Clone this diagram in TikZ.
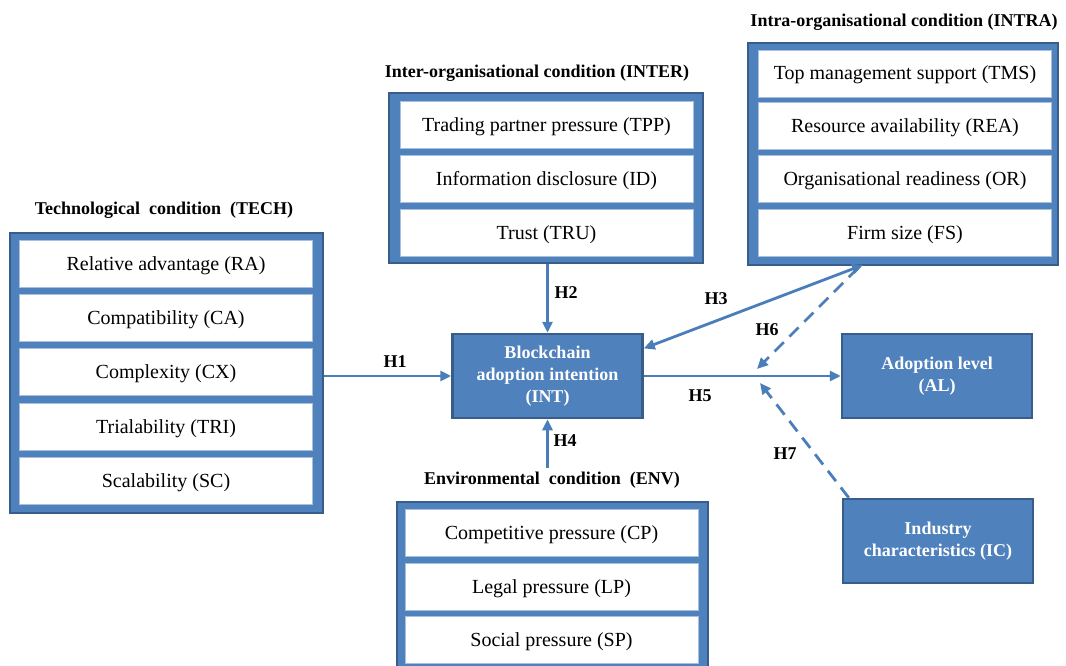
\documentclass[tikz,border=0pt]{standalone}
\usepackage{fontspec}
\setmainfont{Liberation Serif}
\usetikzlibrary{arrows.meta}
\definecolor{boxblue}{HTML}{4F81BD}
\definecolor{boxedge}{HTML}{385D8A}
\definecolor{arrowblue}{HTML}{4A7EBB}
\tikzset{
  group/.style={draw=boxedge, fill=boxblue, line width=2.5pt, inner sep=0pt},
  item/.style={draw=boxblue!50!white, fill=white, line width=0.6pt, minimum width=293pt, minimum height=47pt, inner sep=0pt, text height=14pt, text depth=1pt, font=\fontsize{20}{24}\selectfont},
  head/.style={font=\bfseries\fontsize{18}{22}\selectfont},
  core/.style={draw=boxedge, fill=boxblue, line width=2.5pt, text=white, align=center, minimum width=190pt, minimum height=84pt, inner sep=0pt, font=\bfseries\fontsize{18}{22}\selectfont},
  hyp/.style={font=\bfseries\fontsize{18}{22}\selectfont},
  link/.style={draw=arrowblue, line width=2.8pt, -{Triangle[length=11pt,width=10pt]}},
  moderate/.style={link, dash pattern=on 13pt off 8pt}
}
\begin{document}
\begin{tikzpicture}[x=1pt, y=-1pt]
\useasboundingbox (0,0) rectangle (1066,666);

% technological condition
\node[head] (techhead) at (164,210) {Technological\ \ condition\ \ (TECH)};
\node[group, minimum width=313pt, minimum height=280pt] (tech) at (166.5,373) {};
\node[item] (ra) at (166,264) {Relative advantage (RA)};
\node[item] (ca) at (166,318) {Compatibility (CA)};
\node[item] (cx) at (166,372) {Complexity (CX)};
\node[item] (tri) at (166,427) {Trialability (TRI)};
\node[item] (sc) at (166,481) {Scalability (SC)};

% inter-organisational condition
\node[head] (interhead) at (537,73) {Inter-organisational condition (INTER)};
\node[group, minimum width=314pt, minimum height=170pt] (inter) at (546,178) {};
\node[item] (tpp) at (546.5,125) {Trading partner pressure (TPP)};
\node[item] (id) at (546.5,179) {Information disclosure (ID)};
\node[item] (tru) at (546.5,233) {Trust (TRU)};

% intra-organisational condition
\node[head] (intrahead) at (904,22) {Intra-organisational condition (INTRA)};
\node[group, minimum width=310pt, minimum height=222pt] (intra) at (903,154) {};
\node[item] (tms) at (905,73.5) {Top management support (TMS)};
\node[item] (rea) at (905,126) {Resource availability (REA)};
\node[item] (or) at (905,179) {Organisational readiness (OR)};
\node[item] (fs) at (905,233) {Firm size (FS)};

% environmental condition
\node[head] (envhead) at (552,480) {Environmental\ \ condition\ \ (ENV)};
\node[group, minimum width=311pt, minimum height=172pt] (env) at (552.5,588) {};
\node[item] (cp) at (551.5,533) {Competitive pressure (CP)};
\node[item] (lp) at (551.5,586.5) {Legal pressure (LP)};
\node[item] (sp) at (551.5,640) {Social pressure (SP)};

% constructs
\node[core] (int) at (547.5,376) {Blockchain\\adoption intention\\(INT)};
\node[core] (al) at (937,376) {Adoption level\\(AL)};
\node[core] (ic) at (938,541) {Industry\\characteristics (IC)};

% free ends
\coordinate (intrah3) at (863,265);
\coordinate (intrah6) at (858,268);
\coordinate (envh4) at (547.5,468);
\coordinate (h6end) at (757,369);
\coordinate (h7end) at (760,383);

\draw[link] (tech.east |- int.west) -- (int.west);
\draw[link] (inter.south -| int.north) -- (int.north);
\draw[link, {Triangle[length=11pt,width=10pt]}-{Triangle[length=11pt,width=10pt]}] (intrah3) -- (int.16);
\draw[link] (envh4) -- (int.south);
\draw[link] (int.east) -- (al.west);
\draw[moderate] (intrah6) -- (h6end);
\draw[moderate] ([xshift=7pt]ic.north west) -- (h7end);

\node[hyp] (h1) at (395,362) {H1};
\node[hyp] (h2) at (566,293) {H2};
\node[hyp] (h3) at (716,299) {H3};
\node[hyp] (h4) at (565,441) {H4};
\node[hyp] (h5) at (700,396) {H5};
\node[hyp] (h6) at (767,330) {H6};
\node[hyp] (h7) at (785,454) {H7};
\end{tikzpicture}
\end{document}
